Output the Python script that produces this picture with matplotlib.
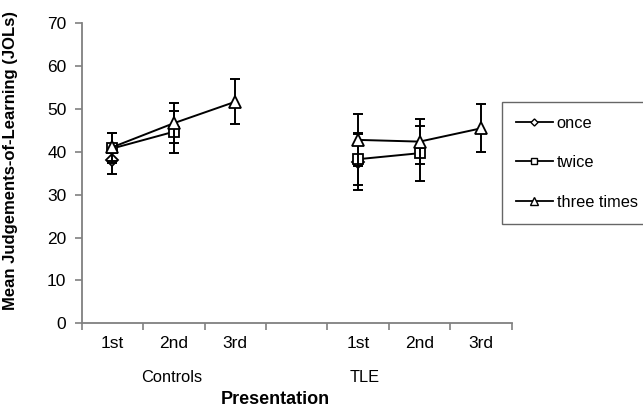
import matplotlib
matplotlib.use("Agg")
import matplotlib.pyplot as plt
from matplotlib.lines import Line2D

plt.rcParams['font.family'] = ['Liberation Sans', 'DejaVu Sans']

# category slots: 3 for Controls, one empty gap, 3 for TLE
tick_labels = ["1st", "2nd", "3rd", "", "1st", "2nd", "3rd"]
groups = ["Controls", "TLE"]
group_start = [0, 4]

# mean JOLs per group
once_means = [[38.1], [37.6]]
once_err = [[3.3], [6.5]]
twice_means = [[40.8, 44.7], [38.3, 39.7]]
twice_err = [[3.5, 4.9], [6.0, 6.4]]
three_means = [[41.1, 46.7, 51.7], [42.8, 42.4, 45.5]]
three_err = [[3.2, 4.6, 5.3], [6.0, 5.2, 5.6]]

series = [
    ("once", "D", 6.0, once_means, once_err),
    ("twice", "s", 7.5, twice_means, twice_err),
    ("three times", "^", 9.0, three_means, three_err),
]

fig = plt.figure(figsize=(6.43, 4.07), dpi=100)
ax = fig.add_axes([0.127, 0.2056, 0.669, 0.7371])

z = 2
for name, mk, ms, means, errs in series:
    for g in range(2):
        xs = [group_start[g] + i for i in range(len(means[g]))]
        ax.errorbar(xs, means[g], yerr=errs[g], fmt="none", ecolor="black",
                    elinewidth=1.4, capsize=3.6, capthick=1.4, zorder=z)
        ax.plot(xs, means[g], color="black", lw=1.4, marker=mk, ms=ms,
                mfc="white", mec="black", mew=1.3, zorder=z + 1)
    z += 2

ax.set_xlim(-0.5, 6.5)
ax.set_ylim(0, 70)
ax.set_yticks(range(0, 71, 10))
ax.set_xticks([x - 0.5 for x in range(8)])
ax.set_xticklabels([])
ax.set_xticks(range(7), minor=True)
ax.set_xticklabels(tick_labels, minor=True)
ax.tick_params(axis="x", which="minor", length=0, pad=9, labelsize=12.5)
ax.tick_params(axis="x", which="major", length=5, direction="out", color="#808080", width=1.2)
ax.tick_params(axis="y", length=5, direction="out", color="#808080", width=1.2, labelsize=12.5, pad=6)

for s in ["top", "right"]:
    ax.spines[s].set_visible(False)
for s in ["left", "bottom"]:
    ax.spines[s].set_color("#808080")
    ax.spines[s].set_linewidth(1.3)

fig.text(11 / 643, 1 - 160 / 407, "Mean Judgements-of-Learning (JOLs)", rotation=90,
         ha="center", va="center", fontsize=12, fontweight="bold")

# group labels under the tick labels
fig.text(172 / 643, 1 - 378 / 407, groups[0], ha="center", va="center", fontsize=11.8)
fig.text(365 / 643, 1 - 378 / 407, groups[1], ha="center", va="center", fontsize=11.8)
fig.text(275 / 643, 1 - 399 / 407, "Presentation", ha="center", va="center",
         fontsize=13, fontweight="bold")

handles = [Line2D([0], [0], color="black", lw=1.3, marker=mk, ms=ms * 0.6,
                  mfc="white", mec="black", mew=1) for _, mk, ms, _, _ in series]
leg = fig.legend(handles, [s[0] for s in series], loc="upper left",
                 bbox_to_anchor=(501.7 / 643, 1 - 101.7 / 407), borderaxespad=0,
                 fontsize=11.8, frameon=True, fancybox=False, labelspacing=1.5,
                 handlelength=2.3, handletextpad=0.2, borderpad=0.85)
leg.get_frame().set_edgecolor("#404040")
leg.get_frame().set_linewidth(1.0)

fig.savefig("out.png", dpi=100)
